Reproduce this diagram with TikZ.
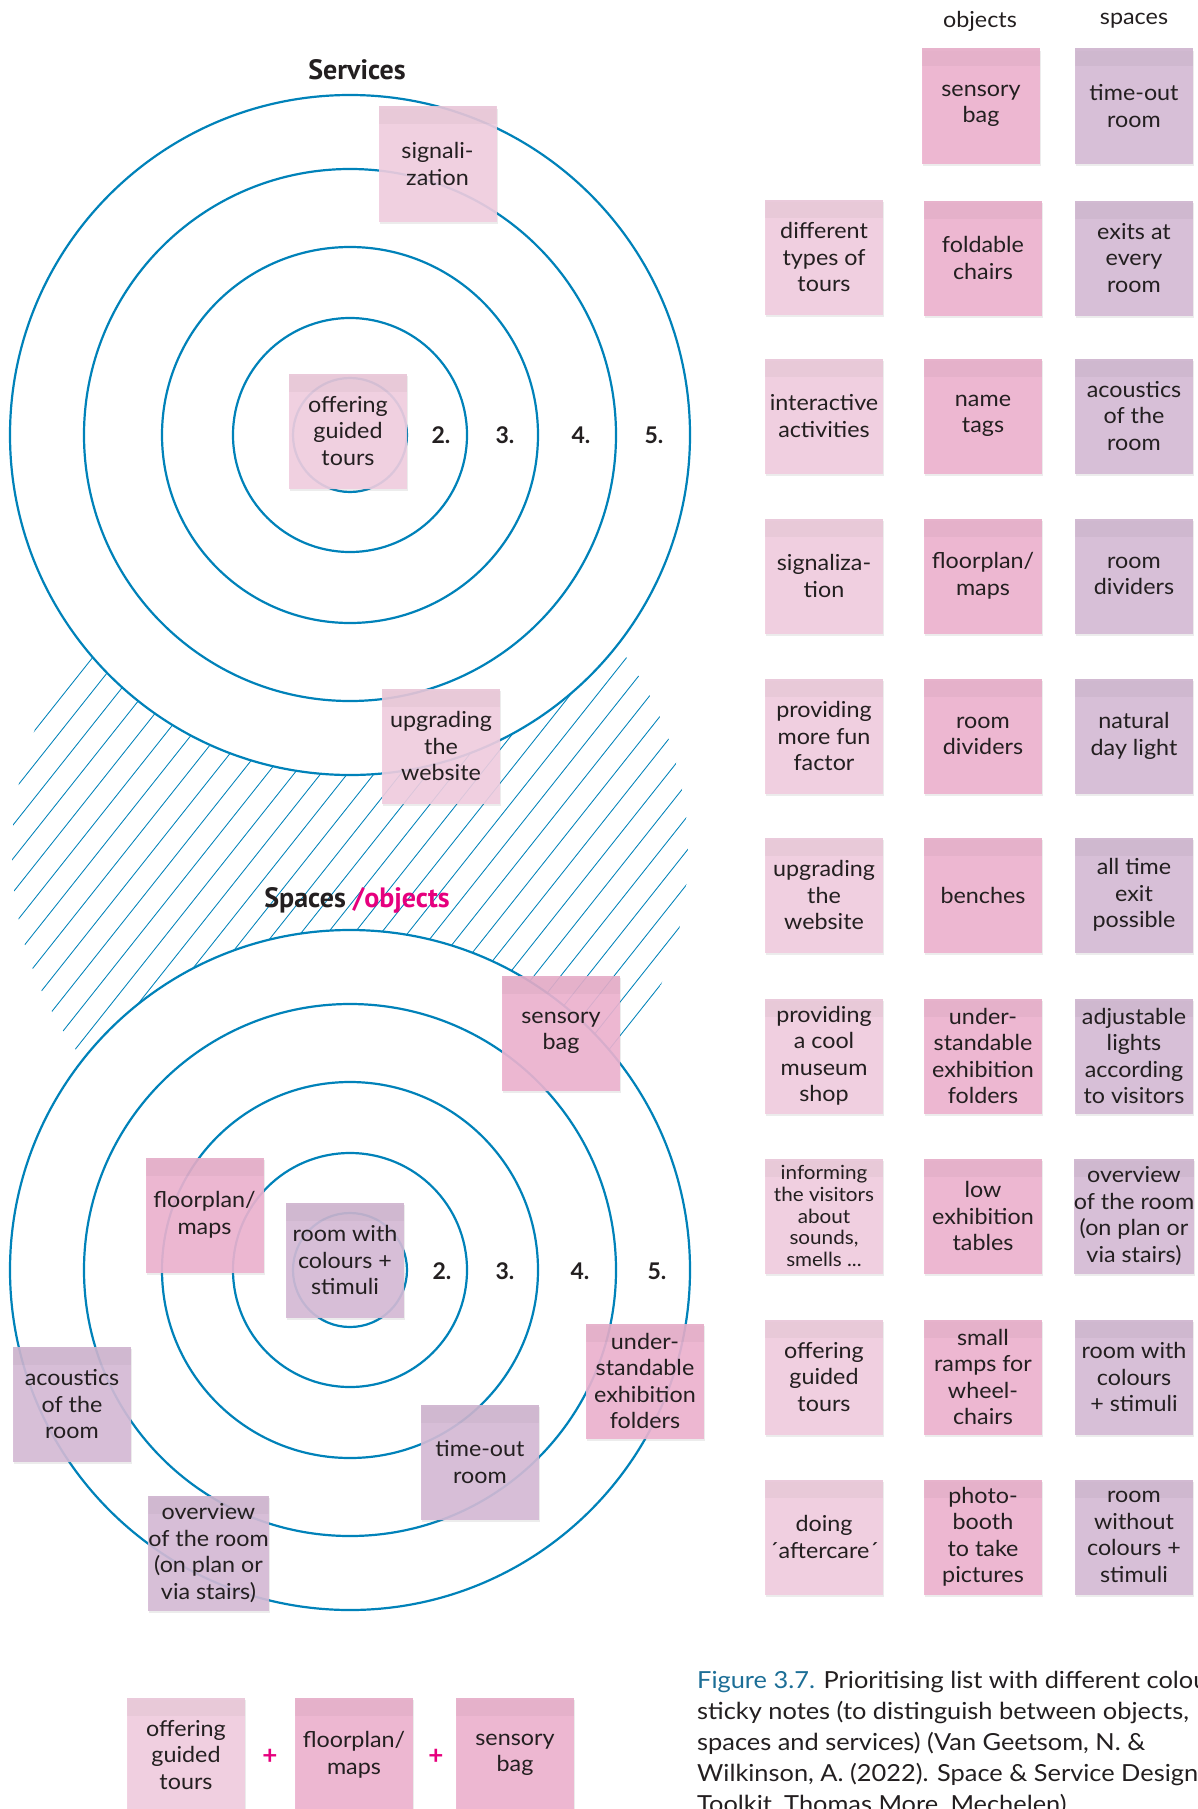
\documentclass[tikz,border=0pt]{standalone}
\usepackage{fontspec}
\setmainfont{Lato}
\newfontfamily\headfont{PT Sans}
\newfontfamily\notefamily[FakeStretch=1.06]{Lato}
\newfontfamily\capfamily[FakeStretch=1.08]{Lato}
\usetikzlibrary{shadows,calc}
\definecolor{ring}{RGB}{0,130,185}
\definecolor{svccol}{RGB}{241,205,223}
\definecolor{objcol}{RGB}{237,178,207}
\definecolor{spccol}{RGB}{213,186,213}
\definecolor{ink}{RGB}{35,31,32}
\definecolor{hotpink}{RGB}{230,0,126}
\definecolor{capblue}{RGB}{28,110,150}
\newcommand\mynotefont{\notefamily\fontsize{22}{26.5}\selectfont}
\newcommand\mysmallnotefont{\notefamily\fontsize{19.5}{21.6}\selectfont}
\newcommand\myringfont{\fontsize{23}{26}\selectfont\bfseries}
\newcommand\myheadfont{\headfont\fontsize{28}{30}\selectfont\bfseries}
\newcommand\mycapfont{\capfamily\fontsize{23.5}{28}\selectfont}
\tikzset{
  ringline/.style={draw=ring, line width=2.2pt},
  hatchline/.style={draw=ring, line width=0.85pt},
  stickynote/.style={minimum width=118pt, minimum height=115pt, inner sep=0pt,
    align=center, text=ink, font=\mynotefont, fill opacity=0.9, text opacity=1,
    drop shadow={shadow xshift=1pt, shadow yshift=-2.5pt, opacity=0.15},
    path picture={\fill[black,opacity=0.03] (path picture bounding box.north west)
      rectangle ([yshift=-18pt]path picture bounding box.north east);}},
  svcnote/.style={stickynote, fill=svccol},
  objnote/.style={stickynote, fill=objcol},
  spcnote/.style={stickynote, fill=spccol},
  ringnum/.style={font=\myringfont, text=ink},
  colhead/.style={font=\notefamily\fontsize{22}{24}\selectfont, text=ink},
  capline/.style={anchor=base west, font=\mycapfont, text=ink, inner sep=0pt},
  plussign/.style={font=\fontsize{26}{28}\selectfont\bfseries, text=hotpink},
}
\begin{document}
\begin{tikzpicture}[x=1pt,y=-1pt]
\useasboundingbox (0,0) rectangle (1198,1809);
\begin{scope}
\clip (0,0) rectangle (1198,1809);
% hatched band
\begin{scope}
\clip (350,852) circle[radius=338pt];
\foreach \i in {-16,...,40} {
  \draw[hatchline] ({45+\i*26.7-320},{852+403}) -- ({45+\i*26.7+320},{852-403});
}
\end{scope}
\fill[white] (350,435) circle[radius=340pt];
\fill[white] (350,1270) circle[radius=340pt];
% rings
\foreach \r in {57,117,188,266,340} {
  \draw[ringline] (350,435) circle[radius=\r pt];
  \draw[ringline] (350,1270) circle[radius=\r pt];
}
\node[ringnum] (u2) at (441,435) {2.};
\node[ringnum] (u3) at (505,435) {3.};
\node[ringnum] (u4) at (581,435) {4.};
\node[ringnum] (u5) at (654,435) {5.};
\node[ringnum] (l2) at (442,1271) {2.};
\node[ringnum] (l3) at (505,1271) {3.};
\node[ringnum] (l4) at (580,1271) {4.};
\node[ringnum] (l5) at (657,1271) {5.};
\node[font=\myheadfont, text=ink] (services) at (357,70) {Services};
\node[font=\myheadfont, text=ink] (spacesobj) at (357,900) {Spaces \textcolor{hotpink}{/objects}};
% notes on the upper target
\node[svcnote] (usig) at (437.5,164) {signali-\\zation};
\node[svcnote] (uoff) at (348,431) {offering\\guided\\tours};
\node[svcnote] (uupg) at (441,746) {upgrading\\the\\website};
% notes on the lower target
\node[objnote] (lsens) at (561,1033) {sensory\\bag};
\node[objnote] (lfloor) at (204.5,1215) {floorplan/\\maps};
\node[spcnote] (lroom) at (345,1260) {room with\\colours +\\stimuli};
\node[spcnote] (lacou) at (72,1404) {acoustics\\of the\\room};
\node[objnote] (lunder) at (645,1381) {under-\\standable\\exhibition\\folders};
\node[spcnote] (ltime) at (480,1462) {time-out\\room};
\node[spcnote] (lover) at (208.5,1553) {overview\\of the room\\(on plan or\\via stairs)};
% bottom row
\node[svcnote] (boff) at (186,1755) {offering\\guided\\tours};
\node[objnote] (bfloor) at (354,1755) {floorplan/\\maps};
\node[objnote] (bsens) at (515,1755) {sensory\\bag};
\node[plussign] (plusa) at (270,1757) {+};
\node[plussign] (plusb) at (436,1757) {+};
% right grid
\node[colhead] (hobj) at (980,21) {objects};
\node[colhead] (hspc) at (1134,21) {spaces};
\node[objnote] (g0o) at (981,106) {sensory\\bag};
\node[spcnote] (g0p) at (1134,106) {time-out\\room};
\node[svcnote] (g1s) at (824,257) {different\\types of\\tours};
\node[objnote] (g1o) at (983,258) {foldable\\chairs};
\node[spcnote] (g1p) at (1134,258) {exits at\\every\\room};
\node[svcnote] (g2s) at (824,416) {interactive\\activities};
\node[objnote] (g2o) at (983,416) {name\\tags};
\node[spcnote] (g2p) at (1134,416) {acoustics\\of the\\room};
\node[svcnote] (g3s) at (824,576) {signaliza-\\tion};
\node[objnote] (g3o) at (983,576) {floorplan/\\maps};
\node[spcnote] (g3p) at (1134,576) {room\\dividers};
\node[svcnote] (g4s) at (824,736) {providing\\more fun\\factor};
\node[objnote] (g4o) at (983,736) {room\\dividers};
\node[spcnote] (g4p) at (1134,736) {natural\\day light};
\node[svcnote] (g5s) at (824,895) {upgrading\\the\\website};
\node[objnote] (g5o) at (983,895) {benches};
\node[spcnote] (g5p) at (1134,895) {all time\\exit\\possible};
\node[svcnote] (g6s) at (824,1056) {providing\\a cool\\museum\\shop};
\node[objnote] (g6o) at (983,1056) {under-\\standable\\exhibition\\folders};
\node[spcnote] (g6p) at (1134,1056) {adjustable\\lights\\according\\to visitors};
\node[svcnote, font=\mysmallnotefont] (g7s) at (824,1216) {informing\\the visitors\\about\\sounds,\\smells ...};
\node[objnote] (g7o) at (983,1216) {low\\exhibition\\tables};
\node[spcnote] (g7p) at (1134,1216) {overview\\of the room\\(on plan or\\via stairs)};
\node[svcnote] (g8s) at (824,1377) {offering\\guided\\tours};
\node[objnote] (g8o) at (983,1377) {small\\ramps for\\wheel-\\chairs};
\node[spcnote] (g8p) at (1134,1377) {room with\\colours\\+ stimuli};
\node[svcnote] (g9s) at (824,1537) {doing\\´aftercare´};
\node[objnote] (g9o) at (983,1537) {photo-\\booth\\to take\\pictures};
\node[spcnote] (g9p) at (1134,1537) {room\\without\\colours +\\stimuli};
% caption
\node[capline] (cap1) at (697,1688) {\textcolor{capblue}{Figure 3.7.} Prioritising list with different coloured};
\node[capline] (cap2) at (697,1719) {sticky notes (to distinguish between objects,};
\node[capline] (cap3) at (697,1750) {spaces and services) (Van Geetsom, N. \&};
\node[capline] (cap4) at (697,1781) {Wilkinson, A. (2022). Space \& Service Design};
\node[capline] (cap5) at (697,1812) {Toolkit, Thomas More, Mechelen)};
\end{scope}
\end{tikzpicture}
\end{document}
